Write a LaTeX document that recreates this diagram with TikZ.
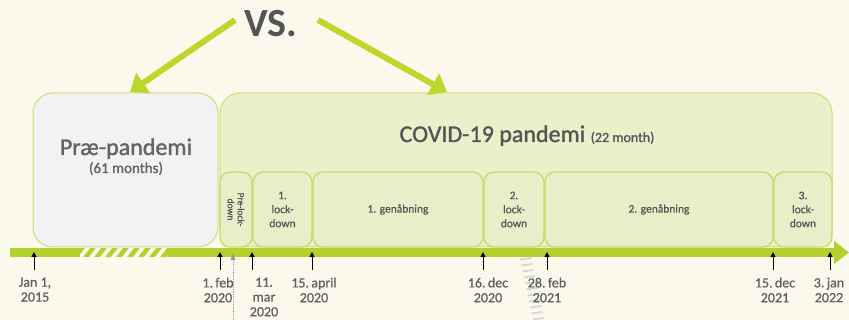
\documentclass[tikz,border=0pt]{standalone}
\usepackage{fontspec}
\setmainfont{Carlito}
\newfontfamily\semib[FakeBold=1.3]{Carlito}
\newfontfamily\lightb[FakeBold=0.6]{Carlito}
\usetikzlibrary{arrows.meta}
\definecolor{bgc}{RGB}{250,249,235}
\definecolor{barc}{RGB}{178,208,46}
\definecolor{arrc}{RGB}{190,215,45}
\definecolor{edgec}{RGB}{205,222,120}
\definecolor{subedge}{RGB}{196,218,104}
\definecolor{covfill}{RGB}{236,240,202}
\definecolor{subfill}{RGB}{234,238,200}
\definecolor{prefill}{RGB}{242,242,244}
\definecolor{txtc}{RGB}{85,85,88}
\definecolor{pretxt}{RGB}{100,100,102}
\definecolor{lblc}{RGB}{95,95,95}
\definecolor{grayarr}{RGB}{150,150,160}
\definecolor{hatchgray}{RGB}{214,214,208}
\begin{document}
\begin{tikzpicture}[x=1pt,y=-1pt,
  bigbox/.style={draw=edgec, line width=1pt, rounded corners=20pt, inner sep=0pt},
  subbox/.style={draw=subedge, fill=subfill, line width=1.2pt, rounded corners=10pt, inner sep=0pt,
     minimum height=75pt, text=txtc, align=center, font=\lightb\fontsize{11.5}{14}\selectfont},
  vsarrow/.style={draw=arrc, line width=6pt, -{Triangle[length=16pt,width=24pt]}},
  tickarrow/.style={draw=black, line width=1pt, -{Triangle[length=5pt,width=5pt]}},
  datelbl/.style={anchor=north, inner sep=0pt, align=center, text=lblc, font=\lightb\fontsize{14}{14.8}\selectfont}]
\useasboundingbox (0,0) rectangle (849,320);
\fill[bgc] (0,0) rectangle (849,320);

% big boxes
\node[bigbox, fill=prefill, minimum width=185pt, minimum height=154pt] (pre) at (125.5,170) {};
\node[bigbox, fill=covfill, minimum width=612pt, minimum height=154pt] (covid) at (526,170) {};

% sub boxes
\node[subbox, minimum width=32pt] (prelock) at (236,209.5) {};
\node[rotate=-90, inner sep=0pt, align=center, text=txtc, font=\lightb\fontsize{9.5}{10}\selectfont] (prelocktxt) at (prelock.center) {Pre-lock-\\down};
\node[subbox, minimum width=59pt] (lock1) at (282.5,209.5) {1.\\lock-\\down};
\node[subbox, minimum width=170pt] (gen1) at (398,209.5) {1. genåbning};
\node[subbox, minimum width=60pt] (lock2) at (514,209.5) {2.\\lock-\\down};
\node[subbox, minimum width=228pt] (gen2) at (659,209.5) {2. genåbning};
\node[subbox, minimum width=58pt] (lock3) at (803,209.5) {3.\\lock-\\down};

% titles
\node[anchor=base, inner sep=0pt, text=pretxt] (pretitle) at (126,155) {\semib\fontsize{24}{26}\selectfont Præ-pandemi};
\node[anchor=base, inner sep=0pt, text=pretxt] (premonths) at (126,173) {\semib\fontsize{15}{16}\selectfont (61 months)};
\node[anchor=base, inner sep=0pt, text=txtc] (covtitle) at (527,142) {\semib\fontsize{24}{26}\selectfont COVID-19 pandemi \fontsize{14}{15}\selectfont(22 month)};

% VS
\node[anchor=base, inner sep=0pt, text=txtc] (vs) at (270.5,37) {\fontsize{40}{44}\selectfont\bfseries VS.};
\coordinate (vsL) at (235,20);
\coordinate (vsR) at (318,20);
\coordinate (tipL) at (130,92);
\coordinate (tipR) at (447,92);
\draw[vsarrow] (vsL) -- (tipL);
\draw[vsarrow] (vsR) -- (tipR);

% timeline bar
\fill[barc] (10,248) rectangle (836,257);
\fill[barc] (834,241) -- (849,252.5) -- (834,264) -- cycle;
\begin{scope}
  \clip (80,248) rectangle (167,257);
  \foreach \i in {0,...,8} {
    \fill[bgc] (78+11*\i,257) -- (85+11*\i,248) -- (90+11*\i,248) -- (83+11*\i,257) -- cycle;
  }
\end{scope}

% faint hatch below bar
\foreach \k in {0,...,10} {
  \draw[hatchgray, line width=1.8pt] (520+1.3*\k,259.5+6*\k) -- (531+1.3*\k,258+6*\k);
}

% gray dotted arrow
\coordinate (gbot) at (233,320);
\coordinate (gtop) at (233,254);
\draw[grayarr, line width=0.9pt, densely dotted, -{Triangle[length=6pt,width=5pt]}] (gbot) -- (gtop);

% ticks and labels
\foreach \name/\x/\lx/\txt in {
  t1/34/35/{Jan 1,\\2015},
  t2/220/218/{1.\,feb\\2020},
  t3/252/264/{11.\\mar\\2020},
  t4/312/314/{15.\,april\\2020},
  t5/483/488/{16.\,dec\\2020},
  t6/547/547/{28.\,feb\\2021},
  t7/773/775/{15.\,dec\\2021},
  t8/830/829/{3.\,jan\\2022}} {
  \coordinate (\name b) at (\x,270);
  \coordinate (\name t) at (\x,252);
  \draw[tickarrow] (\name b) -- (\name t);
  \node[datelbl] (\name lbl) at (\lx,277.5) {\txt};
}
\end{tikzpicture}
\end{document}
